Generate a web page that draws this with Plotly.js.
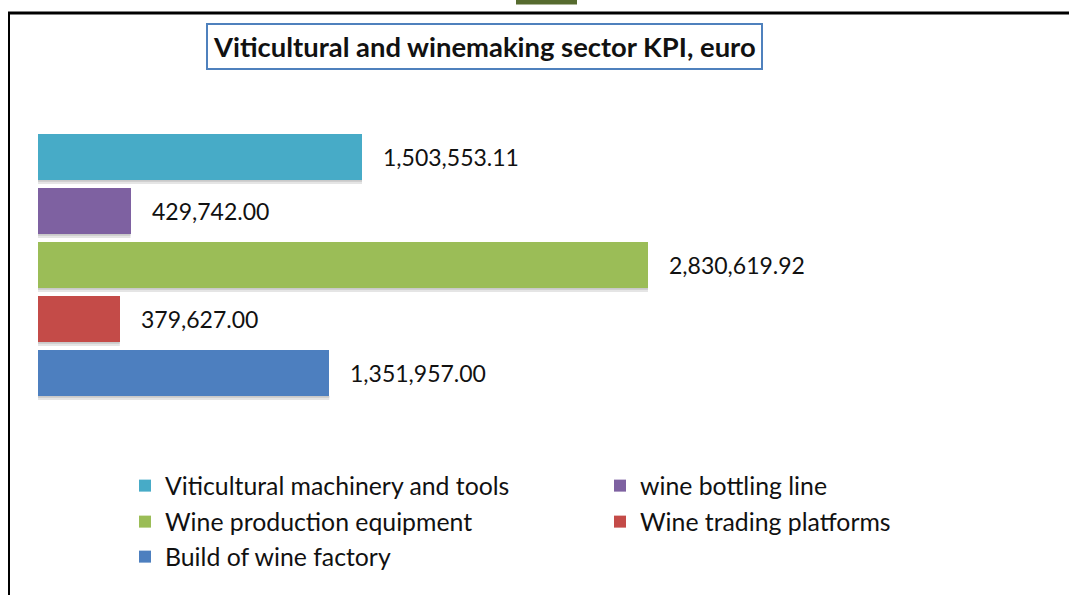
<!DOCTYPE html>
<html>
<head>
<meta charset="utf-8">
<script src="https://cdn.plot.ly/plotly-3.0.1.min.js"></script>
<style>
html,body{margin:0;padding:0;background:#fff;}
#chart{width:1069px;height:595px;}
</style>
</head>
<body>
<div id="chart"></div>
<script>
// ---- data ----
const categories = [
  "Viticultural machinery and tools",
  "wine bottling line",
  "Wine production equipment",
  "Wine trading platforms",
  "Build of wine factory"
];
const values = [1503553.11, 429742.00, 2830619.92, 379627.00, 1351957.00];
const colors = ["#47abc7", "#7e61a1", "#9bbd57", "#c44b48", "#4d7fbf"];
const chartTitle = "Viticultural and winemaking sector KPI, euro";

// ---- geometry ----
const W = 1069, H = 595;
const M = {l: 38, r: 61, t: 130, b: 195};
const PW = W - M.l - M.r, PH = H - M.t - M.b;
const px = x => (x - M.l) / PW;          // pixel -> paper x
const py = y => (H - M.b - y) / PH;      // pixel -> paper y

const fmt = v => v.toLocaleString('en-US', {minimumFractionDigits: 2, maximumFractionDigits: 2});

// legend slots (pixel positions of each entry)
const legendSlots = [[125, 486], [600, 486], [125, 522], [600, 522], [125, 557]];
const legendIds = legendSlots.map((s, i) => i === 0 ? 'legend' : 'legend' + (i + 1));

const traces = categories.map((c, i) => ({
  type: 'bar',
  orientation: 'h',
  y: [c],
  x: [values[i]],
  name: c,
  marker: {color: colors[i], line: {width: 0}},
  legend: legendIds[i],
  hoverinfo: 'x+name'
}));

const annotations = categories.map((c, i) => ({
  x: values[i], y: c, xref: 'x', yref: 'y',
  text: fmt(values[i]),
  showarrow: false, xanchor: 'left', yanchor: 'middle', xshift: 19,
  font: {family: 'Lato', size: 23, color: '#111'}
}));

annotations.push({
  x: px(484), y: py(46.5), xref: 'paper', yref: 'paper',
  text: '<b>' + chartTitle + '</b>',
  showarrow: false, xanchor: 'center', yanchor: 'middle',
  font: {family: 'Lato', size: 27.4, color: '#111'},
  bordercolor: '#4f81bd', borderwidth: 2, borderpad: 5, bgcolor: '#fff'
});

const shapes = [
  // outer frame: top and left
  {type: 'line', xref: 'paper', yref: 'paper', x0: px(8), x1: px(1069), y0: py(13), y1: py(13), line: {color: '#000', width: 3}},
  {type: 'line', xref: 'paper', yref: 'paper', x0: px(9), x1: px(9), y0: py(12), y1: py(595), line: {color: '#000', width: 2}},
  // small olive mark at top
  {type: 'rect', xref: 'paper', yref: 'paper', x0: px(516), x1: px(577), y0: py(0), y1: py(4.5), fillcolor: '#566b2f', line: {width: 0}}
];
// soft shadows under each bar
values.forEach((v, i) => {
  shapes.push({type: 'rect', xref: 'x', yref: 'y', layer: 'below',
    x0: 0, x1: v, y0: i + 0.425, y1: i + 0.5, xsizemode: 'scaled',
    fillcolor: 'rgba(0,0,0,0.10)', line: {width: 0}});
  shapes.push({type: 'rect', xref: 'x', yref: 'y', layer: 'below',
    x0: 0, x1: v, y0: i + 0.425, y1: i + 0.46,
    fillcolor: 'rgba(0,0,0,0.12)', line: {width: 0}});
});

const layout = {
  width: W, height: H,
  margin: M,
  paper_bgcolor: '#fff', plot_bgcolor: '#fff',
  barmode: 'stack', bargap: 0.15,
  showlegend: true,
  xaxis: {range: [0, PW / (324 / 1503553.11)], visible: false, fixedrange: true},
  yaxis: {type: 'category', autorange: 'reversed', visible: false, fixedrange: true},
  annotations: annotations,
  shapes: shapes
};
legendSlots.forEach((s, i) => {
  layout[legendIds[i]] = {
    orientation: 'h', x: px(s[0]), xanchor: 'left', y: py(s[1]), yanchor: 'middle',
    font: {family: 'Lato', size: 24.8, color: '#111'},
    bgcolor: 'rgba(0,0,0,0)'
  };
});

Plotly.newPlot('chart', traces, layout, {displayModeBar: false, staticPlot: true});
</script>
</body>
</html>
